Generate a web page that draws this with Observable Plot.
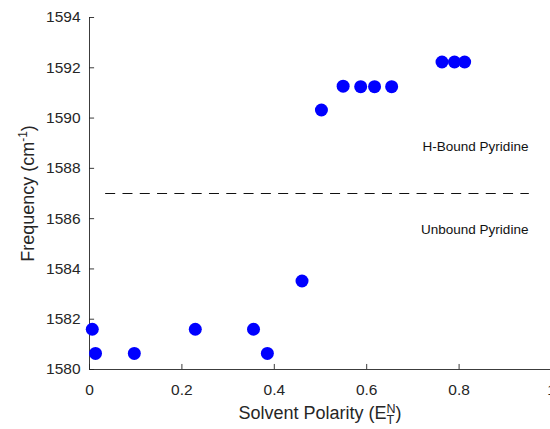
<!DOCTYPE html>
<html>
<head>
<meta charset="utf-8">
<script src="https://cdn.jsdelivr.net/npm/d3@7"></script>
<script src="https://cdn.jsdelivr.net/npm/@observablehq/plot@0.6"></script>
<style>
  html, body { margin: 0; padding: 0; background: white; }
</style>
</head>
<body>
<div id="chart"></div>
<script>
// Data
const polarity  = [0.006, 0.013, 0.097, 0.229, 0.355, 0.385, 0.46, 0.502, 0.549, 0.587, 0.617, 0.654, 0.763, 0.790, 0.812];
const frequency = [1581.6, 1580.64, 1580.64, 1581.6, 1581.6, 1580.64, 1583.52, 1590.32, 1591.27, 1591.25, 1591.25, 1591.25, 1592.23, 1592.23, 1592.23];

const xTicks = [0, 0.2, 0.4, 0.6, 0.8, 1];
const yTicks = [1580, 1582, 1584, 1586, 1588, 1590, 1592, 1594];

const boundaryFreq = [1587];
const boundarySpan = [0.035, 0.952];

const annotationText = ["H-Bound Pyridine", "Unbound Pyridine"];
const annotationX = [0.95, 0.95];
const annotationY = [1588.85, 1585.55];

const xLabel = "Solvent Polarity (E";
const yLabel = "Frequency (cm";

const points = polarity.map((p, i) => ({p, f: frequency[i]}));
const annotations = annotationText.map((t, i) => ({t, x: annotationX[i], y: annotationY[i]}));

const font = "'Liberation Sans', Arial, Helvetica, sans-serif";
const axisColor = "#262626";

const svg = Plot.plot({
  width: 550,
  height: 429,
  marginLeft: 89,
  marginRight: 0,
  marginTop: 17,
  marginBottom: 60,
  style: {fontFamily: font, fontSize: "15.5px", color: axisColor, background: "white", overflow: "visible"},
  x: {domain: [0, 1], range: [89, 551]},
  y: {domain: [1580, 1594]},
  marks: [
    // axis lines
    Plot.ruleX([0], {y1: 1580, y2: 1594, stroke: axisColor, strokeWidth: 0.9}),
    Plot.ruleY([1580], {x1: 0, x2: 1, stroke: axisColor, strokeWidth: 0.9}),
    // inward ticks
    Plot.ruleX(xTicks, {x: d => d, y1: 1580, y2: 1580.2, stroke: axisColor, strokeWidth: 0.9}),
    Plot.ruleY(yTicks, {y: d => d, x1: 0, x2: 0.011, stroke: axisColor, strokeWidth: 0.9}),
    // tick labels
    Plot.axisX({ticks: xTicks, tickSize: 0, tickPadding: 14, tickFormat: d => String(d), label: null, fontSize: 15.5}),
    Plot.axisY({ticks: yTicks, tickSize: 0, tickPadding: 9, tickFormat: d => String(d), label: null, fontSize: 15.5}),
    // dashed boundary
    Plot.ruleY(boundaryFreq, {y: d => d, x1: boundarySpan[0], x2: boundarySpan[1], stroke: "#111", strokeWidth: 1, strokeDasharray: "10,7.3"}),
    // annotations
    Plot.text(annotations, {x: "x", y: "y", text: "t", textAnchor: "end", fontSize: 13.5, fill: "#111", lineAnchor: "middle"}),
    // data points
    Plot.dot(points, {x: "p", y: "f", r: 6.5, fill: "#0000ff", stroke: "none"}),
    // axis titles
    Plot.text([xLabel], {frameAnchor: "bottom", dy: 44, lineAnchor: "middle", fontSize: 18, fill: axisColor, className: "xlab"}),
    Plot.text([yLabel], {frameAnchor: "left", dx: -61, rotate: -90, lineAnchor: "middle", textAnchor: "middle", fontSize: 18, fill: axisColor, className: "ylab"})
  ]
});

document.getElementById("chart").appendChild(svg);

// add superscripts / subscripts to axis titles
const yl = d3.select(svg).select("g.ylab text");
yl.text(null);
yl.append("tspan").text(yLabel);
yl.append("tspan").attr("dy", -7.5).attr("font-size", 12).text("-1");
yl.append("tspan").attr("dy", 7.5).text(")");

const xl = d3.select(svg).select("g.xlab text");
xl.text(null);
xl.append("tspan").text(xLabel);
xl.append("tspan").attr("dy", -6.5).attr("font-size", 12.5).text("N");
xl.append("tspan").attr("dy", 11.5).attr("dx", -9).attr("font-size", 12.5).text("T");
xl.append("tspan").attr("dy", -5).attr("dx", 1.4).text(")");
</script>
</body>
</html>
